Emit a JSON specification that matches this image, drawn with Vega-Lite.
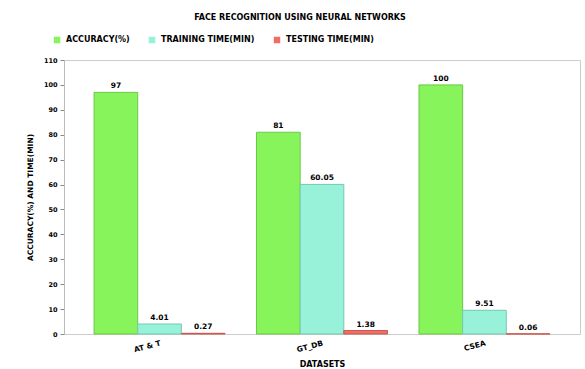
{
  "$schema": "https://vega.github.io/schema/vega-lite/v6.json",
  "autosize": {"type": "none"},
  "padding": {"left": 64, "top": 60, "right": 5, "bottom": 35},
  "width": 516,
  "height": 274,
  "background": "white",
  "title": {
    "text": "FACE RECOGNITION USING NEURAL NETWORKS",
    "font": "DejaVu Sans",
    "fontSize": 8,
    "fontWeight": "bold",
    "color": "#000000",
    "anchor": "middle",
    "frame": "group",
    "dx": -22,
    "offset": 14
  },
  "data": {
    "values": [
      {"dataset": "AT & T", "series": "ACCURACY(%)", "value": 97, "label": "97"},
      {"dataset": "AT & T", "series": "TRAINING TIME(MIN)", "value": 4.01, "label": "4.01"},
      {"dataset": "AT & T", "series": "TESTING TIME(MIN)", "value": 0.27, "label": "0.27"},
      {"dataset": "GT_DB", "series": "ACCURACY(%)", "value": 81, "label": "81"},
      {"dataset": "GT_DB", "series": "TRAINING TIME(MIN)", "value": 60.05, "label": "60.05"},
      {"dataset": "GT_DB", "series": "TESTING TIME(MIN)", "value": 1.38, "label": "1.38"},
      {"dataset": "CSEA", "series": "ACCURACY(%)", "value": 100, "label": "100"},
      {"dataset": "CSEA", "series": "TRAINING TIME(MIN)", "value": 9.51, "label": "9.51"},
      {"dataset": "CSEA", "series": "TESTING TIME(MIN)", "value": 0.06, "label": "0.06"}
    ]
  },
  "encoding": {
    "x": {
      "field": "dataset",
      "type": "nominal",
      "sort": ["AT & T", "GT_DB", "CSEA"],
      "scale": {"paddingInner": 0.194, "paddingOuter": 0.185},
      "axis": {
        "title": "DATASETS",
        "labelAngle": -15,
        "labelFont": "DejaVu Sans",
        "labelFontSize": 7.5,
        "labelFontWeight": "bold",
        "labelColor": "#000000",
        "labelPadding": 5,
        "ticks": false,
        "domain": false,
        "titleFont": "DejaVu Sans",
        "titleFontSize": 8,
        "titleFontWeight": "bold",
        "titleColor": "#000000",
        "titlePadding": 7
      }
    },
    "xOffset": {
      "field": "series",
      "type": "nominal",
      "sort": ["ACCURACY(%)", "TRAINING TIME(MIN)", "TESTING TIME(MIN)"],
      "scale": {"paddingInner": 0, "paddingOuter": 0}
    },
    "y": {
      "field": "value",
      "type": "quantitative",
      "scale": {"domain": [0, 110], "nice": false},
      "axis": {
        "title": "ACCURACY(%) AND TIME(MIN)",
        "values": [0, 10, 20, 30, 40, 50, 60, 70, 80, 90, 100, 110],
        "grid": false,
        "domainColor": "#bbbbbb",
        "tickColor": "#888888",
        "tickSize": 4,
        "labelFont": "DejaVu Sans",
        "labelFontSize": 6.5,
        "labelFontWeight": "bold",
        "labelColor": "#000000",
        "labelPadding": 3,
        "titleFont": "DejaVu Sans",
        "titleFontSize": 7.5,
        "titleFontWeight": "bold",
        "titleColor": "#000000",
        "titlePadding": 9
      }
    }
  },
  "layer": [
    {
      "mark": {"type": "bar", "strokeWidth": 1},
      "encoding": {
        "color": {
          "field": "series",
          "type": "nominal",
          "sort": ["ACCURACY(%)", "TRAINING TIME(MIN)", "TESTING TIME(MIN)"],
          "scale": {
            "domain": ["ACCURACY(%)", "TRAINING TIME(MIN)", "TESTING TIME(MIN)"],
            "range": ["#88F45C", "#98F2D9", "#EE6F66"]
          },
          "legend": {
            "title": null,
            "orient": "none",
            "direction": "horizontal",
            "legendX": -11,
            "legendY": -24,
            "symbolType": "square",
            "symbolSize": 42,
            "symbolStrokeWidth": 0,
            "labelFont": "DejaVu Sans",
            "labelFontSize": 8,
            "labelFontWeight": "bold",
            "labelColor": "#000000",
            "labelOffset": 5,
            "columnPadding": 18,
            "padding": 0
          }
        },
        "stroke": {
          "field": "series",
          "type": "nominal",
          "scale": {
            "domain": ["ACCURACY(%)", "TRAINING TIME(MIN)", "TESTING TIME(MIN)"],
            "range": ["#6CC847", "#74C9B2", "#C9554C"]
          },
          "legend": null
        }
      }
    },
    {
      "mark": {
        "type": "text",
        "dy": -6,
        "font": "DejaVu Sans",
        "fontSize": 7.5,
        "fontWeight": "bold",
        "color": "#000000"
      },
      "encoding": {
        "text": {"field": "label", "type": "nominal"}
      }
    }
  ],
  "config": {
    "view": {"stroke": "#cccccc", "strokeWidth": 1}
  }
}
